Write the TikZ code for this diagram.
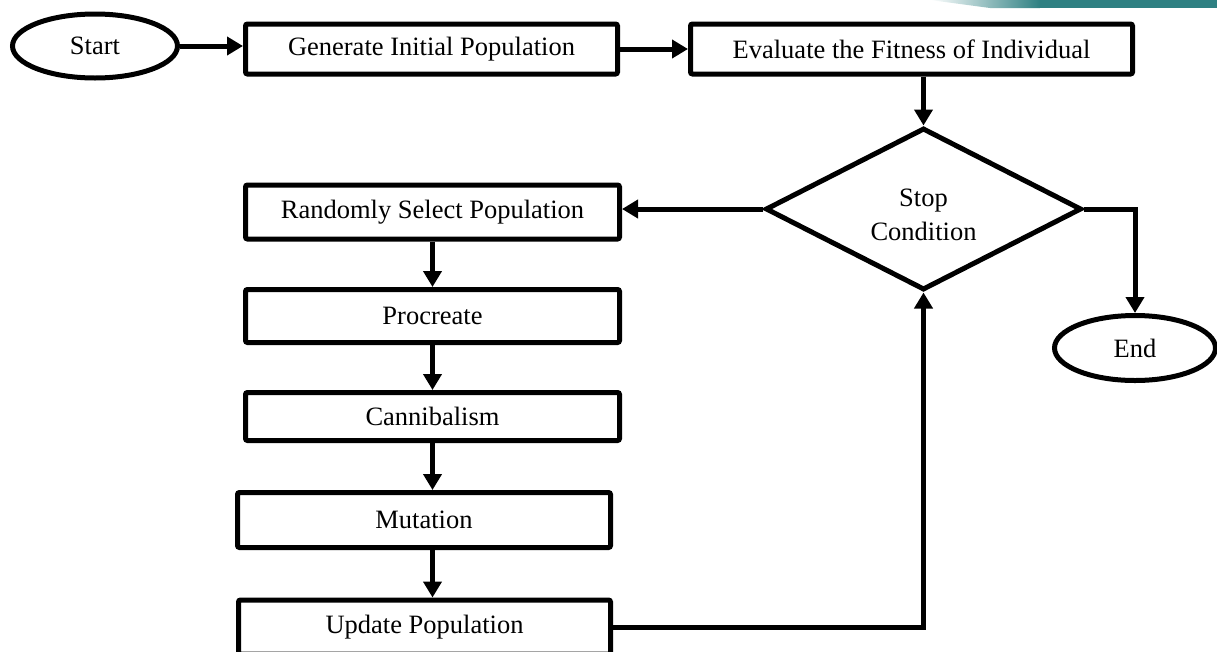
\documentclass[tikz,border=0pt]{standalone}
\usepackage{fontspec}
\setmainfont{Liberation Serif}
\usepackage{xcolor}
\usetikzlibrary{shapes.geometric,arrows.meta}
\definecolor{barteal}{RGB}{46,128,130}

\begin{document}
\begin{tikzpicture}[x=1pt,y=-1pt,line width=5pt,
    >={Triangle[length=16pt,width=18pt]},
    every node/.style={font=\fontsize{26.5}{34}\selectfont},
    blk/.style={draw,rounded corners=2pt,inner sep=0pt},
    term/.style={draw,ellipse,inner sep=0pt},
    cond/.style={draw,diamond,aspect=2,inner sep=0pt,align=center}]
      \useasboundingbox (0,0) rectangle (1217,651);
      \shade [left color=white,right color=barteal] (930,0) -- (1040,0) -- (1040,8) -- (990,8) -- cycle;
      \fill [barteal] (1039.5,0) rectangle (1217,8);
      \node [term,minimum width=165pt,minimum height=64pt] (S) at (95,46) {Start};
      \node [blk,minimum width=372pt,minimum height=50pt] (G) at (431.5,49) {Generate Initial Population};
      \node [blk,minimum width=442pt,minimum height=50pt] (E) at (911.5,49) {Evaluate the Fitness of Individual};
      \node [cond,minimum width=316pt,minimum height=162pt] (D) at (923.5,209)
        {\raisebox{-14pt}[0pt][0pt]{Stop}\\\raisebox{-14pt}[0pt][0pt]{Condition}};
      \node [term,minimum width=161pt,minimum height=65pt] (N) at (1135,348) {End};
      \node [blk,minimum width=374pt,minimum height=54pt] (R) at (432.5,212) {Randomly Select Population};
      \node [blk,minimum width=374pt,minimum height=53pt] (P) at (432.5,316) {Procreate};
      \node [blk,minimum width=374pt,minimum height=48pt] (C) at (432.5,416.5) {Cannibalism};
      \node [blk,minimum width=373pt,minimum height=55pt] (M) at (424,520) {Mutation};
      \node [blk,minimum width=372pt,minimum height=54pt] (U) at (424.5,627) {Update Population};
      \draw [->] (S) -- (S -| G.west);
      \draw [->] (G) -- (E);
      \draw [->] (E.south -| D.north) -- (D.north);
      \draw [->] (D.west) -- (D.west -| R.east);
      \draw [->] (D.east) -| (N.north);
      \draw [->] (R) -- (P);
      \draw [->] (P) -- (C);
      \draw [->] (C.south) -- (C.south |- M.north);
      \draw [->] (M.south -| C.south) -- (C.south |- U.north);
      \draw [->] (U.east) -| (D.south);
    \end{tikzpicture}
\end{document}
